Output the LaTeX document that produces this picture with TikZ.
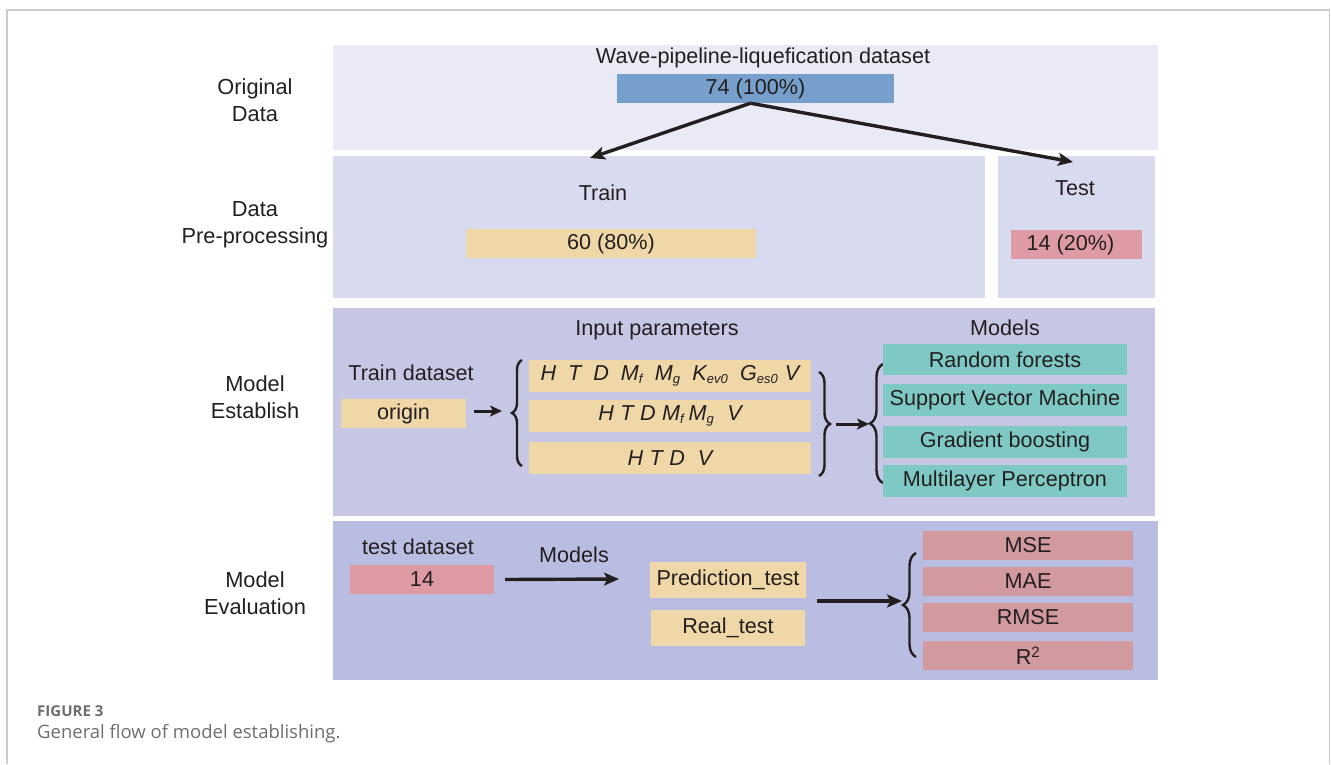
\documentclass[tikz,border=0pt]{standalone}
\usepackage{fontspec}
\setmainfont{Liberation Sans}
\newfontfamily\capfont{Open Sans}
\usetikzlibrary{arrows.meta,decorations.pathreplacing}
\definecolor{txt}{HTML}{231F20}
\definecolor{pA}{HTML}{E9EAF5}
\definecolor{pB}{HTML}{D8DAEF}
\definecolor{pC}{HTML}{C6C7E5}
\definecolor{pD}{HTML}{BABDE2}
\definecolor{blueb}{HTML}{779FCC}
\definecolor{tanb}{HTML}{F0D7A8}
\definecolor{pinkb}{HTML}{DF9BA3}
\definecolor{tealb}{HTML}{7FC9C5}
\definecolor{roseb}{HTML}{D29A9F}
\definecolor{capgray}{HTML}{6D6E71}
\definecolor{framegray}{HTML}{CCCCCC}
\tikzset{
  lbl/.style={text=txt, font=\fontsize{21.6}{26}\selectfont, inner sep=0pt},
  rowlbl/.style={text=txt, font=\fontsize{21.8}{27}\selectfont, align=center, inner sep=0pt},
  box/.style={text=txt, font=\fontsize{21.6}{26}\selectfont, inner sep=0pt, minimum height=29pt},
  flow/.style={draw=txt, line width=3.4pt, -{Stealth[length=15pt,width=13pt,inset=3.5pt]}},
  sflow/.style={draw=txt, line width=3pt, -{Stealth[length=12pt,width=11pt,inset=3pt]}},
  brc/.style={draw=txt, line width=2.4pt, decorate, decoration={brace, amplitude=#1}},
}
\newcommand{\sbs}[1]{\textsubscript{\fontsize{13}{13}\selectfont #1}}
\begin{document}
\begin{tikzpicture}[x=1pt,y=-1pt]
\useasboundingbox (0,0) rectangle (1331,764);
% frame
\draw[framegray, line width=1.5pt] (7,764) -- (7,10) -- (1329.5,10) -- (1329.5,764);
% panels
\fill[pA] (333,45) rectangle (1158,150);
\fill[pB] (333,156) rectangle (985,298);
\fill[pB] (998,156) rectangle (1155,298);
\fill[pC] (333,308) rectangle (1155,516);
\fill[pD] (333,521) rectangle (1158,680);
% row labels
\node[rowlbl] (l1) at (255,100) {Original\\Data};
\node[rowlbl] (l2) at (255,225) {Data\\Pre-processing};
\node[rowlbl] (l3) at (255,397.5) {Model\\Establish};
\node[rowlbl] (l4) at (255,593.5) {Model\\Evaluation};
% original data
\node[lbl] (wpl) at (763,58) {Wave-pipeline-liquefication dataset};
\node[box, fill=blueb, minimum width=277pt] (all) at (755.5,88.5) {74 (100\%)};
\coordinate (trtop) at (590,158);
\coordinate (tetop) at (1073,162);
\draw[flow] ([xshift=-5pt]all.south) -- (trtop);
\draw[flow] ([xshift=-5pt]all.south) -- (tetop);
% preprocessing
\node[lbl] (trlbl) at (603,193) {Train};
\node[box, fill=tanb, minimum width=290pt] (tr) at (611,243.5) {60 (80\%)};
\node[lbl] (telbl) at (1075,188) {Test};
\node[box, fill=pinkb, minimum width=131pt] (te) at (1076.5,244.5) {\hspace*{-12pt}14 (20\%)};
% model establish
\node[lbl] (inlbl) at (657,330) {Input parameters};
\node[lbl] (tdlbl) at (411,373) {Train dataset};
\node[box, fill=tanb, minimum width=125pt] (orig) at (403.5,413.5) {origin};
\node[box, fill=tanb, minimum width=282pt, minimum height=32pt] (p1) at (670,376)
  {\itshape H\hspace{0.55em}T\hspace{0.55em}D\hspace{0.55em}M\sbs{f}\hspace{0.55em}M\sbs{g}\hspace{0.55em}K\sbs{ev0}\hspace{0.55em}G\sbs{es0}\hspace{0.3em}V};
\node[box, fill=tanb, minimum width=282pt, minimum height=32pt] (p2) at (670,416)
  {\itshape H\hspace{0.3em}T\hspace{0.3em}D\hspace{0.3em}M\sbs{f}\hspace{0.2em}M\sbs{g}\hspace{0.6em}V};
\node[box, fill=tanb, minimum width=282pt, minimum height=32pt] (p3) at (670,458)
  {\itshape H\hspace{0.3em}T\hspace{0.3em}D\hspace{0.6em}V};
\coordinate (b1a) at (522,466);
\coordinate (b1b) at (522,360);
\draw[brc=10pt] (b1a) -- (b1b);
\coordinate (b2a) at (819,372);
\coordinate (b2b) at (819,476);
\draw[brc=11pt] (b2a) -- (b2b);
\coordinate (b3a) at (883,483);
\coordinate (b3b) at (883,364);
\draw[brc=13pt] (b3a) -- (b3b);
\coordinate (a1s) at (474,411);
\coordinate (a1e) at (502,411);
\draw[sflow] (a1s) -- (a1e);
\coordinate (a2s) at (836,424);
\coordinate (a2e) at (869,424);
\draw[sflow] (a2s) -- (a2e);
\node[lbl] (mlbl) at (1005,328) {Models};
\node[box, fill=tealb, minimum width=244pt, minimum height=31pt] (rf) at (1005,359.5) {Random forests};
\node[box, fill=tealb, minimum width=244pt, minimum height=32pt] (svm) at (1005,400) {Support Vector Machine};
\node[box, fill=tealb, minimum width=244pt, minimum height=32pt] (gb) at (1005,442) {Gradient boosting};
\node[box, fill=tealb, minimum width=244pt, minimum height=32pt] (mlp) at (1005,481) {Multilayer Perceptron};
% model evaluation
\node[lbl] (tslbl) at (418,547) {test dataset};
\node[box, fill=pinkb, minimum width=144pt] (t14) at (422,579.5) {14};
\node[lbl] (m2lbl) at (574,555) {Models};
\node[box, fill=tanb, minimum width=156pt, minimum height=36pt] (pred) at (728,580) {Prediction\_test};
\node[box, fill=tanb, minimum width=154pt, minimum height=36pt] (real) at (728,628) {Real\_test};
\coordinate (a3e) at (619,579);
\draw[flow] ([xshift=11pt]t14.east) -- (a3e);
\coordinate (a4s) at (817,601);
\coordinate (a4e) at (902,601);
\draw[flow] (a4s) -- (a4e);
\coordinate (b4a) at (916,657);
\coordinate (b4b) at (916,553);
\draw[brc=13pt] (b4a) -- (b4b);
\node[box, fill=roseb, minimum width=210pt] (mse) at (1028,545.5) {MSE};
\node[box, fill=roseb, minimum width=210pt] (mae) at (1028,581.5) {MAE};
\node[box, fill=roseb, minimum width=210pt] (rmse) at (1028,617.5) {RMSE};
\node[box, fill=roseb, minimum width=210pt] (r2) at (1028,655.5) {R\textsuperscript{2}};
% caption
\node[anchor=west, inner sep=0pt, text=capgray, font=\capfont\fontsize{15}{17}\selectfont\bfseries] (fig) at (37,711) {FIGURE 3};
\node[anchor=west, inner sep=0pt, text=capgray, font=\capfont\fontsize{18.5}{21}\selectfont] (cap) at (37,734) {General flow of model establishing.};
\end{tikzpicture}
\end{document}
